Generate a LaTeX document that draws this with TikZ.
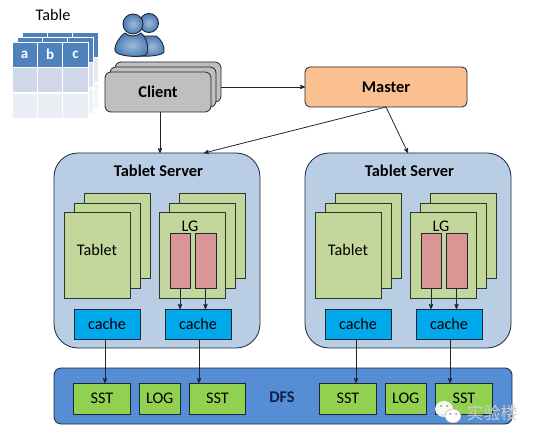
\documentclass[tikz,border=0pt]{standalone}
\usepackage{fontspec}
\setmainfont{Carlito}
\newfontfamily\cjkmark{Noto Sans CJK SC}
\usetikzlibrary{arrows, calc, positioning}

\definecolor{edgedark}{HTML}{1D2733}
\definecolor{serverblue}{HTML}{B9CDE5}
\definecolor{pagegreen}{HTML}{C3D69B}
\definecolor{pageedge}{HTML}{2A3A20}
\definecolor{lgred}{HTML}{D99694}
\definecolor{cacheblue}{HTML}{00A8EC}
\definecolor{dfsblue}{HTML}{558ED5}
\definecolor{dfstext}{HTML}{10204A}
\definecolor{sstgreen}{HTML}{92D050}
\definecolor{masterorange}{HTML}{FAC090}
\definecolor{clientgray}{HTML}{BFBFBF}
\definecolor{headblue}{HTML}{4F81BD}
\definecolor{rowone}{HTML}{D0D8E8}
\definecolor{rowtwo}{HTML}{E9EDF4}

\tikzset{
  box/.style={draw=edgedark, line width=0.8pt, outer sep=0pt, inner sep=0pt, text=black},
  clientbox/.style={box, fill=clientgray, rounded corners=6pt, minimum width=106pt, minimum height=40pt},
  masterbox/.style={box, fill=masterorange, rounded corners=5pt, minimum width=162pt, minimum height=40pt},
  serverbox/.style={box, fill=serverblue, rounded corners=24pt, minimum width=206pt, minimum height=195pt},
  pagebox/.style={box, fill=pagegreen, draw=pageedge, minimum width=66pt, minimum height=85.5pt},
  lgbox/.style={box, fill=lgred, minimum height=55pt},
  cachebox/.style={box, fill=cacheblue, minimum width=66pt, minimum height=30pt},
  dfsbox/.style={box, fill=dfsblue, rounded corners=7pt, minimum width=458pt, minimum height=56pt},
  sstbox/.style={box, fill=sstgreen, minimum width=56.5pt, minimum height=31pt},
  logbox/.style={box, fill=sstgreen, minimum width=41pt, minimum height=31pt},
  cellbox/.style={draw=white, line width=0.8pt, minimum width=25.4pt, outer sep=0pt, inner sep=0pt},
  title/.style={font=\fontsize{16.4}{18}\selectfont\bfseries, text=black},
  plain/.style={font=\fontsize{16.2}{18}\selectfont, text=black},
  person/.style={draw=edgedark, line width=0.9pt, inner color=headblue!55!white, outer color=headblue!95!black}
}

\begin{document}
\begin{tikzpicture}[x=1pt, y=-1pt, ->, >=stealth', line width=0.8pt, draw=edgedark]
    \useasboundingbox (0,0) rectangle (535,438);

    % table
    \node[plain] (tabletitle) at (53,15) {Table};
    \foreach \lay/\fade in {10/55,5/75,0/100} {
      \foreach \col/\txt in {0/a,1/b,2/c} {
        \node[cellbox, fill=headblue, minimum height=25pt, text=white, font=\fontsize{15}{17}\selectfont\bfseries]
          (head\lay\col) at (24.7+25.4*\col+\lay, 54.5-\lay) {\ifnum\lay=0 \txt\fi};
        \node[cellbox, fill=rowone!\fade!white, minimum height=25pt] (rowa\lay\col) at (24.7+25.4*\col+\lay, 80-\lay) {};
        \node[cellbox, fill=rowtwo!\fade!white, minimum height=25pt] (rowb\lay\col) at (24.7+25.4*\col+\lay, 105.5-\lay) {};
      }
    }

    % users
    \draw[person, -] (156,36) .. controls (161,39) and (165,46) .. (164,52)
      .. controls (163,55) and (150,57) .. (138,56) -- (138,36) -- cycle;
    \draw[person, -] (149,23) circle (9.5);
    \draw[person, -] (125,33) .. controls (119,37) and (114,46) .. (115,51)
      .. controls (117,56) and (137,58) .. (146,55)
      .. controls (150,50) and (147,38) .. (141,33)
      .. controls (137,37) and (129,37) .. (125,33) -- cycle;
    \draw[person, -] (133,24) circle (10);

    % client and master
    \node[clientbox] (clientc) at (168,82) {};
    \node[clientbox] (clientb) at (163,87) {};
    \node[clientbox, title] (client) at (158,92) {Client};
    \node[masterbox, title] (master) at (386,87) {Master};

    % both tablet servers
    \foreach \s/\dx in {a/0,b/251} {
      \node[serverbox] (\s server) at (157+\dx,250.5) {};
      \node[title] (\s title) at (158.5+\dx,171) {Tablet Server};

      \node[pagebox] (\s tabc) at (117.5+\dx,236) {};
      \node[pagebox] (\s tabb) at (107.5+\dx,246) {};
      \node[pagebox] (\s taba) at (97+\dx,255.5) {};
      \node[plain] (\s tablabel) at (97+\dx,250) {Tablet};

      \node[pagebox] (\s lgc) at (212.5+\dx,236) {};
      \node[pagebox] (\s lgb) at (202.5+\dx,246) {};
      \node[pagebox] (\s lga) at (192.5+\dx,255.5) {};
      \node[plain] (\s lglabel) at (190+\dx,226) {LG};
      \node[lgbox, minimum width=20pt] (\s redl) at (180+\dx,260.5) {};
      \node[lgbox, minimum width=21pt] (\s redr) at (205.5+\dx,260.5) {};

      \node[cachebox, plain] (\s cachel) at (107+\dx,324) {cache};
      \node[cachebox, plain] (\s cacher) at (198+\dx,324) {cache};

      \draw (\s redl.south) -- (\s redl.south |- \s cacher.north);
      \draw (\s redr.south) -- (\s redr.south |- \s cacher.north);
    }

    % dfs
    \node[dfsbox] (dfs) at (283,396) {};
    \node[title, text=dfstext] (dfslabel) at (282,397) {DFS};
    \node[sstbox, plain] (ssta) at (102,398.5) {SST};
    \node[logbox, plain, right=9pt of ssta] (loga) {LOG};
    \node[sstbox, plain, right=9pt of loga] (sstb) {SST};
    \node[sstbox, plain] (sstc) at (348,398.5) {SST};
    \node[logbox, plain, right=9pt of sstc] (logb) {LOG};
    \node[sstbox, plain, right=9.5pt of logb] (sstd) {SST};

    \draw ([xshift=2pt]client.south) -- ([xshift=2pt]client.south |- aserver.north);
    \draw (clientc.east |- master.west) -- (master.west);
    \draw (master.south) -- ([xshift=47pt]aserver.north);
    \draw (master.south) -- (bserver.north);
    \draw ([xshift=-2pt]acachel.south) -- ([xshift=-2pt]acachel.south |- ssta.north);
    \draw ([xshift=1pt]acacher.south) -- ([xshift=1pt]acacher.south |- sstb.north);
    \draw ([xshift=-2pt]bcachel.south) -- ([xshift=-2pt]bcachel.south |- sstc.north);
    \draw ([xshift=1pt]bcacher.south) -- ([xshift=1pt]bcacher.south |- sstd.north);

    % watermark
    \fill[white, opacity=0.9] (444,409) ellipse (9 and 8);
    \fill[white, draw=black!35, line width=0.4pt] (453,416) ellipse (8 and 7);
    \fill[black!45] (441,406) circle (1) (447,406) circle (1) (450,414) circle (1) (456,414) circle (1);
    \node[font=\cjkmark\fontsize{17}{19}\selectfont, text=white!80!black] (marktext) at (492,413) {实验楼};
\end{tikzpicture}
\end{document}
